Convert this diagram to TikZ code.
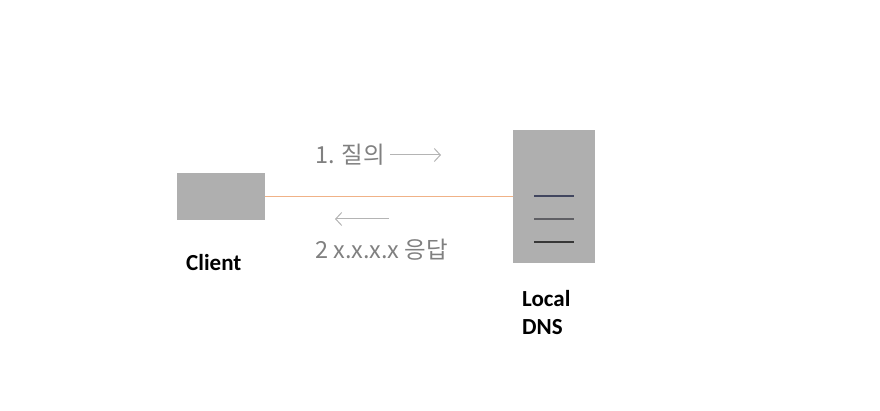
\documentclass[tikz,border=0pt]{standalone}
\usepackage{fontspec}
\setmainfont{Carlito}
\newfontfamily\kr{Noto Sans CJK KR}
\usetikzlibrary{arrows.meta}
\definecolor{boxgray}{RGB}{175,175,175}
\definecolor{peach}{RGB}{240,178,135}
\definecolor{txtgray}{RGB}{128,128,128}
\definecolor{arrgray}{RGB}{180,180,180}
\definecolor{rack1}{RGB}{65,70,95}
\definecolor{rack2}{RGB}{95,95,100}
\definecolor{rack3}{RGB}{55,55,55}
\begin{document}
\begin{tikzpicture}[x=1pt,y=-1pt,
  box/.style={fill=boxgray,draw=none,inner sep=0pt,anchor=north west},
  lbl/.style={font=\fontsize{23}{28}\selectfont\bfseries,align=left,anchor=west,inner sep=0pt},
  klbl/.style={font=\kr\fontsize{23.5}{26}\selectfont,text=txtgray,anchor=west,inner sep=0pt},
  msg/.style={draw=arrgray,line width=1pt,-{Straight Barb[length=6pt,width=13pt]}},
  rack/.style={line width=1.2pt}]
\useasboundingbox (0,0) rectangle (880,411);
\node[box,minimum width=88pt,minimum height=47pt] (client) at (177,173) {};
\node[box,minimum width=82pt,minimum height=133pt] (dns) at (513,130) {};
\coordinate (c1) at (client.east);
\draw[draw=peach,line width=1.2pt] (c1) -- (c1 -| dns.west);
\coordinate (l1a) at (534,196); \coordinate (l1b) at (574,196);
\coordinate (l2a) at (534,219); \coordinate (l2b) at (574,219);
\coordinate (l3a) at (534,242); \coordinate (l3b) at (574,242);
\draw[rack,draw=rack1] (l1a) -- (l1b);
\draw[rack,draw=rack2] (l2a) -- (l2b);
\draw[rack,draw=rack3] (l3a) -- (l3b);
\node[lbl] (clientlbl) at (186,263) {Client};
\node[lbl] (dnslbl) at (522,313) {Local\\DNS};
\node[klbl] (q) at (315,155) {1. 질의};
\coordinate (qa) at (390,155); \coordinate (qb) at (441,155);
\draw[msg] (qa) -- (qb);
\coordinate (ra) at (389,219); \coordinate (rb) at (335,219);
\draw[msg] (ra) -- (rb);
\node[klbl] (r) at (315,250) {2 x.x.x.x 응답};
\end{tikzpicture}
\end{document}
